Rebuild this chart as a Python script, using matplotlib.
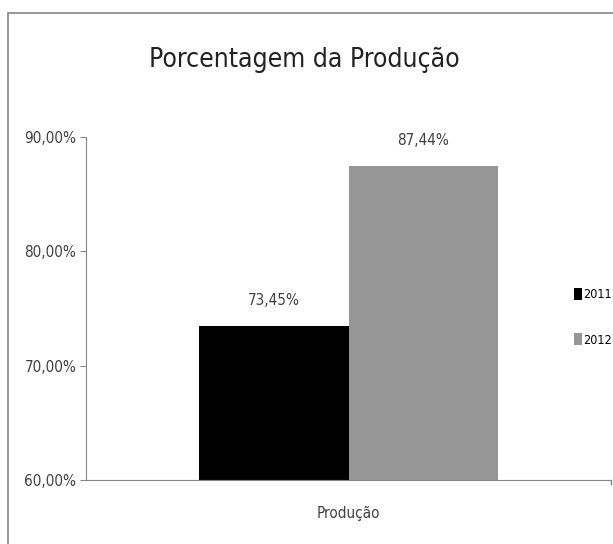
import matplotlib
matplotlib.use("Agg")
import matplotlib.pyplot as plt
from matplotlib.patches import Rectangle
from matplotlib.ticker import FuncFormatter

# data
category = "Produção"
years = ["2011", "2012"]
values = [73.45, 87.44]
colors = ["#000000", "#969696"]
yticks = [60, 70, 80, 90]

plt.rcParams['font.family'] = ['DejaVu Sans']

fig = plt.figure(figsize=(6.13, 5.44), dpi=100)
W, H = 613, 544
ax = fig.add_axes([86 / W, (H - 480) / H, (611 - 86) / W, (480 - 137) / H])

# chart border (runs off the right and bottom edge like the original)
fig.patches.append(Rectangle((8 / W, -0.05), 1.1, 1 - 13 / H + 0.05,
                             transform=fig.transFigure, fill=False,
                             edgecolor="#868686", linewidth=1.2))

barw = 0.2857  # 150% gap width
for i, (yr, v) in enumerate(zip(years, values)):
    x = (i - 0.5) * barw
    ax.bar(x, v - 60, bottom=60, width=barw, color=colors[i], label=yr)
    ax.text(x, v + 1.6, f"{v:.2f}%".replace(".", ","), ha="center", va="bottom",
            fontsize=11, color="#404040", fontstretch="condensed")

ax.set_xlim(-0.5, 0.5)
ax.set_ylim(60, 90)
ax.set_yticks(yticks)
ax.yaxis.set_major_formatter(FuncFormatter(lambda v, p: f"{v:.2f}%".replace(".", ",")))
ax.set_xticks([0])
ax.set_xticklabels([category])
for s in ["top", "right"]:
    ax.spines[s].set_visible(False)
ax.spines["left"].set_color("#868686")
ax.spines["bottom"].set_color("#868686")
ax.tick_params(axis="y", length=4, color="#868686", labelsize=11, labelcolor="#404040", pad=3)
ax.tick_params(axis="x", length=0, labelsize=11, labelcolor="#404040", pad=19)
for lab in ax.get_yticklabels() + ax.get_xticklabels():
    lab.set_fontstretch("condensed")
ax.axvline(0.5, ymin=-0.012, ymax=0, color="#868686", lw=1, clip_on=False)

fig.text(304 / W, 1 - 60 / H, "Porcentagem da Produção", ha="center", va="center",
         fontsize=19, color="#222222", fontstretch="condensed")

leg = ax.legend(loc="center left", bbox_to_anchor=((563 - 86) / (611 - 86), (480 - 317) / (480 - 137)),
                frameon=False, handlelength=0.6, handleheight=1.1, handletextpad=0.15,
                labelspacing=2.6, prop={"stretch": "condensed", "size": 9})
for t in leg.get_texts():
    t.set_color("#000000")

fig.savefig("out.png", dpi=100)
